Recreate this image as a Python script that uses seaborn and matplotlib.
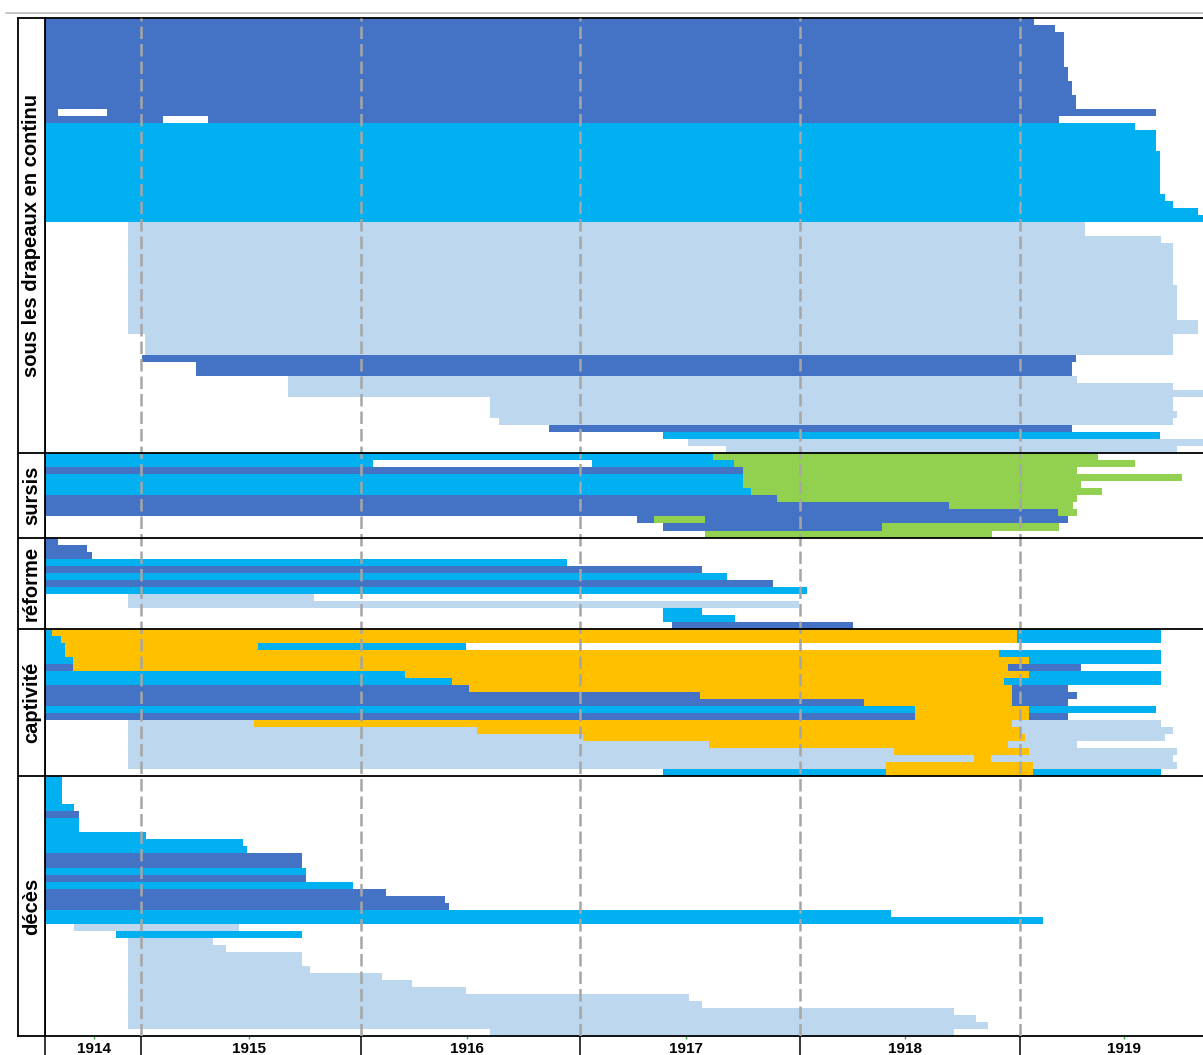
import matplotlib
matplotlib.use("Agg")
import matplotlib.pyplot as plt
from matplotlib.lines import Line2D
import pandas as pd
import seaborn as sns

sns.set_theme(style="white")
plt.rcParams["font.family"] = ["Liberation Sans", "DejaVu Sans"]

# ---- categories / colours -------------------------------------------------
A, R, T, S, C = "active", "reserve", "territoriale", "sursis", "captivite"
CAT_COLORS = {A: "#4472C4", R: "#00B0F0", T: "#BDD7EE", S: "#92D050", C: "#FFC000"}

X0 = 1914.563          # axis start (mobilisation)
X1 = 1919.833          # right edge of the visible chart

panel_labels = ["sous les drapeaux en continu", "sursis", "réforme", "captivité", "décès"]

year_lines = [1915, 1916, 1917, 1918, 1919]
year_labels = ["1914", "1915", "1916", "1917", "1918", "1919"]
year_label_pos = [1914.786, 1915.491, 1916.484, 1917.480, 1918.477, 1919.473]

# each entry: (number of identical rows, [(category, start, end), ...])
rows_drapeaux = [
    (1, [(A, X0, 1919.064)]),
    (1, [(A, X0, 1919.159)]),
    (5, [(A, X0, 1919.200)]),
    (2, [(A, X0, 1919.218)]),
    (2, [(A, X0, 1919.237)]),
    (2, [(A, X0, 1919.255)]),
    (1, [(A, X0, 1914.622), (A, 1914.845, 1919.619)]),
    (1, [(A, X0, 1915.100), (A, 1915.305, 1919.178)]),
    (1, [(R, X0, 1919.523)]),
    (3, [(R, X0, 1919.619)]),
    (6, [(R, X0, 1919.637)]),
    (1, [(R, X0, 1919.660)]),
    (1, [(R, X0, 1919.696)]),
    (1, [(R, X0, 1919.810)]),
    (1, [(R, X0, 1919.865)]),
    (2, [(T, 1914.941, 1919.296)]),
    (1, [(T, 1914.941, 1919.641)]),
    (6, [(T, 1914.941, 1919.696)]),
    (5, [(T, 1914.941, 1919.714)]),
    (2, [(T, 1914.941, 1919.810)]),
    (3, [(T, 1915.018, 1919.696)]),
    (1, [(A, 1915.005, 1919.255)]),
    (2, [(A, 1915.250, 1919.237)]),
    (1, [(T, 1915.669, 1919.259)]),
    (1, [(T, 1915.669, 1919.696)]),
    (1, [(T, 1915.669, 1919.865)]),
    (2, [(T, 1916.588, 1919.696)]),
    (1, [(T, 1916.588, 1919.714)]),
    (1, [(T, 1916.629, 1919.696)]),
    (1, [(A, 1916.857, 1919.237)]),
    (1, [(R, 1917.375, 1919.637)]),
    (1, [(T, 1917.489, 1919.865)]),
    (1, [(T, 1917.662, 1919.714)]),
]

rows_sursis = [
    (1, [(R, X0, 1917.603), (S, 1917.603, 1919.355)]),
    (1, [(R, X0, 1916.056), (R, 1917.052, 1917.699), (S, 1917.699, 1919.523)]),
    (1, [(A, X0, 1917.740), (S, 1917.740, 1919.259)]),
    (1, [(R, X0, 1917.740), (S, 1917.740, 1919.737)]),
    (1, [(R, X0, 1917.740), (S, 1917.740, 1919.278)]),
    (1, [(R, X0, 1917.776), (S, 1917.776, 1919.373)]),
    (1, [(A, X0, 1917.894), (S, 1917.894, 1919.259)]),
    (1, [(A, X0, 1918.677), (S, 1918.677, 1919.241)]),
    (1, [(A, X0, 1919.173), (S, 1919.173, 1919.259)]),
    (1, [(A, 1917.257, 1917.334), (S, 1917.334, 1917.567), (A, 1917.567, 1919.218)]),
    (1, [(A, 1917.375, 1918.372), (S, 1918.372, 1919.178)]),
    (1, [(S, 1917.567, 1918.873)]),
]

rows_reforme = [
    (1, [(A, X0, 1914.622)]),
    (1, [(A, X0, 1914.754)]),
    (1, [(A, X0, 1914.777)]),
    (1, [(R, X0, 1916.939)]),
    (1, [(A, X0, 1917.553)]),
    (1, [(R, X0, 1917.667)]),
    (1, [(A, X0, 1917.876)]),
    (1, [(R, X0, 1918.031)]),
    (1, [(T, 1914.941, 1915.787)]),
    (1, [(T, 1914.941, 1917.994)]),
    (1, [(R, 1917.375, 1917.553)]),
    (1, [(R, 1917.375, 1917.703)]),
    (1, [(A, 1917.416, 1918.240)]),
]

rows_captivite = [
    (1, [(R, X0, 1914.595), (C, 1914.595, 1918.986), (R, 1918.986, 1919.641)]),
    (1, [(R, X0, 1914.636), (C, 1914.636, 1918.986), (R, 1918.986, 1919.641)]),
    (1, [(R, X0, 1914.654), (C, 1914.654, 1915.532), (R, 1915.532, 1916.479)]),
    (1, [(R, X0, 1914.654), (C, 1914.654, 1918.904), (R, 1918.904, 1919.641)]),
    (1, [(R, X0, 1914.691), (C, 1914.691, 1919.041), (R, 1919.041, 1919.641)]),
    (1, [(A, X0, 1914.691), (C, 1914.691, 1918.945), (A, 1918.945, 1919.278)]),
    (1, [(R, X0, 1916.201), (C, 1916.201, 1919.041), (R, 1919.041, 1919.641)]),
    (1, [(R, X0, 1916.415), (C, 1916.415, 1918.927), (R, 1918.927, 1919.641)]),
    (1, [(A, X0, 1916.493), (C, 1916.493, 1918.964), (A, 1918.964, 1919.218)]),
    (1, [(A, X0, 1917.544), (C, 1917.544, 1918.964), (A, 1918.964, 1919.259)]),
    (1, [(A, X0, 1918.290), (C, 1918.290, 1918.964), (A, 1918.964, 1919.218)]),
    (1, [(R, X0, 1918.522), (C, 1918.522, 1919.041), (R, 1919.041, 1919.619)]),
    (1, [(A, X0, 1918.522), (C, 1918.522, 1919.041), (A, 1919.041, 1919.218)]),
    (1, [(T, 1914.941, 1915.514), (C, 1915.514, 1918.964), (T, 1918.964, 1919.641)]),
    (1, [(T, 1914.941, 1916.529), (C, 1916.529, 1919.000), (T, 1919.000, 1919.696)]),
    (1, [(T, 1914.941, 1917.011), (C, 1917.011, 1919.023), (T, 1919.023, 1919.660)]),
    (1, [(T, 1914.941, 1917.585), (C, 1917.585, 1918.945), (T, 1918.945, 1919.259)]),
    (1, [(T, 1914.941, 1918.427), (C, 1918.427, 1919.041), (T, 1919.041, 1919.714)]),
    (1, [(T, 1914.941, 1918.791), (C, 1918.791, 1918.868), (T, 1918.868, 1919.696)]),
    (1, [(T, 1914.941, 1918.390), (C, 1918.390, 1919.059), (T, 1919.059, 1919.714)]),
    (1, [(R, 1917.375, 1918.390), (C, 1918.390, 1919.059), (R, 1919.059, 1919.641)]),
]

rows_deces = [
    (4, [(R, X0, 1914.640)]),
    (1, [(R, X0, 1914.695)]),
    (1, [(A, X0, 1914.718)]),
    (2, [(R, X0, 1914.718)]),
    (1, [(R, X0, 1915.023)]),
    (1, [(R, X0, 1915.464)]),
    (1, [(R, X0, 1915.482)]),
    (2, [(A, X0, 1915.733)]),
    (1, [(R, X0, 1915.751)]),
    (1, [(A, X0, 1915.751)]),
    (1, [(R, X0, 1915.965)]),
    (1, [(A, X0, 1916.115)]),
    (1, [(A, X0, 1916.383)]),
    (1, [(A, X0, 1916.402)]),
    (1, [(R, X0, 1918.413)]),
    (1, [(R, X0, 1919.105)]),
    (1, [(T, 1914.695, 1915.446)]),
    (1, [(R, 1914.886, 1915.733)]),
    (1, [(T, 1914.941, 1915.328)]),
    (1, [(T, 1914.941, 1915.387)]),
    (2, [(T, 1914.941, 1915.733)]),
    (1, [(T, 1914.941, 1915.769)]),
    (1, [(T, 1914.941, 1916.097)]),
    (1, [(T, 1914.941, 1916.233)]),
    (1, [(T, 1914.941, 1916.479)]),
    (1, [(T, 1914.941, 1917.494)]),
    (1, [(T, 1914.941, 1917.553)]),
    (1, [(T, 1914.941, 1918.700)]),
    (1, [(T, 1914.941, 1918.800)]),
    (1, [(T, 1914.941, 1918.854)]),
    (1, [(T, 1916.588, 1918.700)]),
]

panels = [rows_drapeaux, rows_sursis, rows_reforme, rows_captivite, rows_deces]

# ---- build a tidy table of segments ---------------------------------------
records = []
bounds = []
row = 0
for p, panel in enumerate(panels):
    start_row = row
    for n, segs in panel:
        for _ in range(n):
            for cat, s, e in segs:
                records.append({"row": row, "panel": p, "cat": cat, "start": s, "end": e})
            row += 1
    bounds.append((start_row, row))
n_rows = row
df = pd.DataFrame(records)
df["dur"] = df["end"] - df["start"]

# ---- figure ---------------------------------------------------------------
W, H = 1203, 1055
fig = plt.figure(figsize=(W / 100, H / 100), dpi=100)
fig.patch.set_facecolor("white")

top_px, bot_px = 18, 1036
ax = fig.add_axes([45 / W, 1 - bot_px / H, (W - 45) / W, (bot_px - top_px) / H])
lab = fig.add_axes([18 / W, 1 - bot_px / H, 27 / W, (bot_px - top_px) / H])

for cat, g in df.groupby("cat"):
    col = CAT_COLORS[cat]
    ax.barh(g["row"] + 0.5, g["dur"], left=g["start"], height=1.0,
            color=col, edgecolor="none", linewidth=0, antialiased=False, zorder=2)

ax.set_xlim(X0, X1)
ax.set_ylim(n_rows, 0)
ax.set_yticks([])

for yr in year_lines:
    ax.axvline(yr, color="#A6A6A6", lw=1.8, ls=(0, (5, 2)), zorder=3)

for b0, b1 in bounds[1:]:
    ax.axhline(b0, color="black", lw=1.3, zorder=4)
    lab.axhline(b0, color="black", lw=1.3, zorder=4)

# x axis: long major ticks at year boundaries, labels in the middle of years
ax.set_xticks([X0] + year_lines)
ax.set_xticklabels([""] * (len(year_lines) + 1))
ax.set_xticks(year_label_pos, minor=True)
ax.set_xticklabels(year_labels, minor=True, fontweight="bold", fontsize=11)
ax.tick_params(axis="x", which="major", length=15, width=1.1, color="black",
               direction="out", bottom=True)
ax.tick_params(axis="x", which="minor", length=2, width=1, color="#3CB043",
               labelcolor="black", pad=2, bottom=True)

for side in ["top", "bottom", "left"]:
    ax.spines[side].set_visible(True)
    ax.spines[side].set_color("black")
    ax.spines[side].set_linewidth(1.3)
ax.spines["right"].set_visible(False)

# label column
lab.set_xlim(0, 1)
lab.set_ylim(n_rows, 0)
lab.set_xticks([])
lab.set_yticks([])
for side in ["top", "bottom", "left", "right"]:
    lab.spines[side].set_visible(True)
    lab.spines[side].set_color("black")
    lab.spines[side].set_linewidth(1.3)
for (b0, b1), name in zip(bounds, panel_labels):
    lab.text(0.5, (b0 + b1) / 2, name, rotation=90, ha="center", va="center",
             fontsize=14.5, fontweight="bold", color="black")

fig.add_artist(Line2D([6 / W, 1], [1 - 12.5 / H] * 2, color="#BFBFBF", lw=1.3))

fig.savefig("out.png", dpi=100)
